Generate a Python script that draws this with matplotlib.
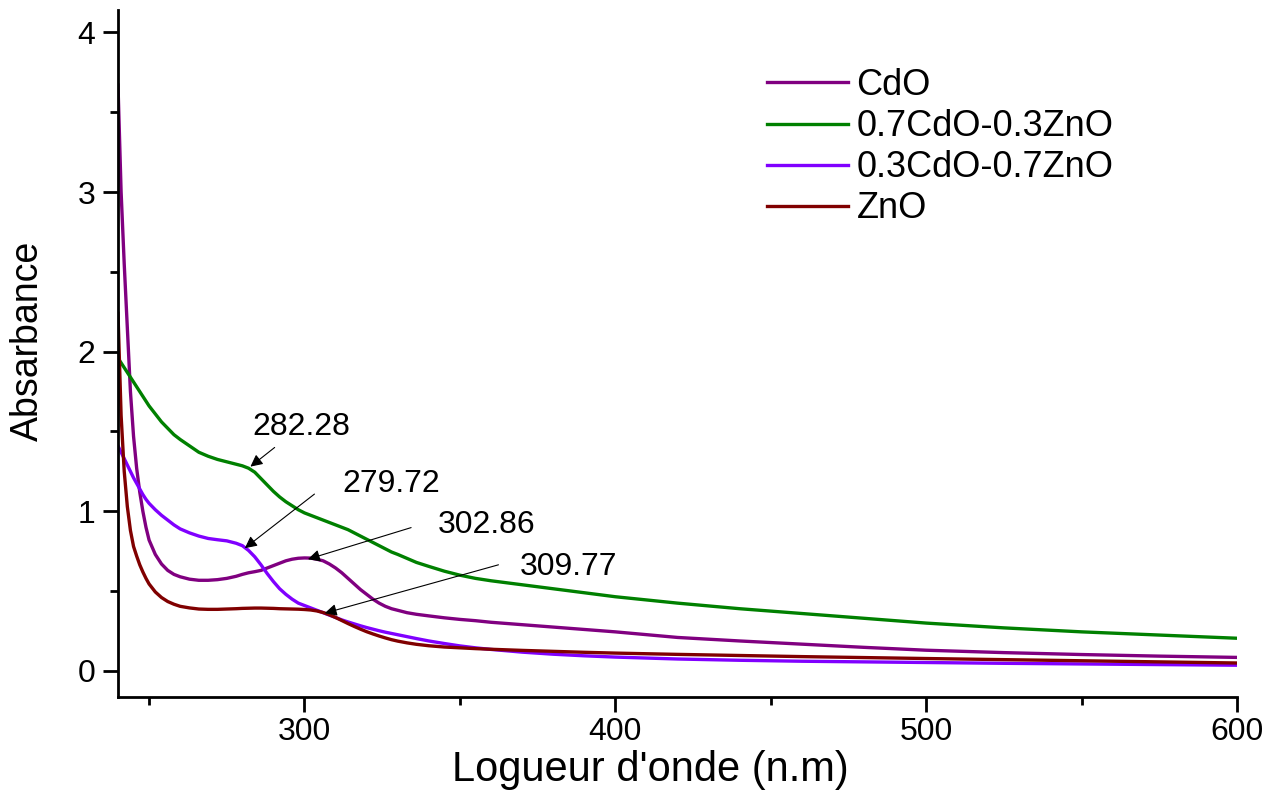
import numpy as np
import matplotlib.pyplot as plt
from matplotlib.ticker import MultipleLocator

plt.rcParams['font.family'] = ['Liberation Sans', 'DejaVu Sans']

wavelength = [240, 241, 242, 243, 244, 245, 246, 247, 248, 249, 250, 252, 254, 256, 258,
              260, 263, 266, 269, 272, 275, 278, 280, 282, 284, 286, 288, 290, 292, 294,
              296, 298, 300, 302, 304, 306, 308, 310, 312, 314, 316, 318, 320, 322, 324,
              326, 328, 330, 333, 336, 340, 345, 350, 355, 360, 370, 380, 390, 400, 420,
              440, 460, 480, 500, 525, 550, 575, 600]

cdo = [3.67, 3.0, 2.55, 2.15, 1.75, 1.47, 1.27, 1.12, 1.0, 0.9, 0.82, 0.73, 0.67, 0.63,
       0.605, 0.59, 0.575, 0.568, 0.568, 0.572, 0.58, 0.593, 0.605, 0.615, 0.622, 0.63,
       0.645, 0.66, 0.675, 0.69, 0.70, 0.706, 0.708, 0.707, 0.70, 0.69, 0.67, 0.645,
       0.615, 0.58, 0.545, 0.51, 0.48, 0.45, 0.425, 0.405, 0.39, 0.38, 0.365, 0.355,
       0.345, 0.333, 0.323, 0.315, 0.305, 0.29, 0.275, 0.26, 0.245, 0.21, 0.188, 0.168,
       0.148, 0.13, 0.115, 0.103, 0.093, 0.085]

cdo07_zno03 = [1.96, 1.93, 1.9, 1.87, 1.84, 1.81, 1.78, 1.75, 1.72, 1.69, 1.66, 1.61,
               1.56, 1.52, 1.48, 1.45, 1.41, 1.37, 1.345, 1.325, 1.31, 1.295, 1.285, 1.27,
               1.245, 1.205, 1.165, 1.125, 1.09, 1.06, 1.035, 1.01, 0.99, 0.975, 0.96,
               0.945, 0.93, 0.915, 0.9, 0.885, 0.865, 0.845, 0.825, 0.805, 0.785, 0.765,
               0.745, 0.73, 0.705, 0.68, 0.655, 0.625, 0.6, 0.58, 0.565, 0.54, 0.515, 0.49,
               0.465, 0.425, 0.39, 0.36, 0.33, 0.3, 0.27, 0.245, 0.225, 0.205]

cdo03_zno07 = [1.41, 1.37, 1.33, 1.29, 1.25, 1.21, 1.175, 1.14, 1.105, 1.075, 1.05, 1.01,
               0.975, 0.945, 0.915, 0.89, 0.865, 0.845, 0.83, 0.822, 0.815, 0.8, 0.785,
               0.755, 0.715, 0.665, 0.61, 0.56, 0.515, 0.48, 0.45, 0.425, 0.41, 0.395, 0.38,
               0.365, 0.35, 0.335, 0.32, 0.307, 0.295, 0.283, 0.272, 0.262, 0.252, 0.243,
               0.235, 0.227, 0.215, 0.203, 0.188, 0.172, 0.157, 0.145, 0.135, 0.118, 0.105,
               0.095, 0.087, 0.075, 0.067, 0.061, 0.057, 0.053, 0.048, 0.044, 0.04, 0.036]

zno = [2.24, 1.6, 1.25, 1.03, 0.88, 0.78, 0.72, 0.665, 0.62, 0.58, 0.545, 0.495, 0.46,
       0.435, 0.418, 0.405, 0.395, 0.388, 0.386, 0.386, 0.388, 0.39, 0.392, 0.393, 0.394,
       0.394, 0.393, 0.392, 0.39, 0.389, 0.388, 0.387, 0.385, 0.382, 0.376, 0.366, 0.352,
       0.335, 0.316, 0.297, 0.279, 0.262, 0.246, 0.232, 0.219, 0.207, 0.196, 0.187, 0.176,
       0.167, 0.158, 0.15, 0.145, 0.14, 0.136, 0.129, 0.123, 0.117, 0.112, 0.104, 0.097,
       0.09, 0.084, 0.078, 0.071, 0.064, 0.057, 0.05]

labels = ['CdO', '0.7CdO-0.3ZnO', '0.3CdO-0.7ZnO', 'ZnO']
colors = ['#800080', '#008000', '#8000FF', '#800000']

# (text, text x, text y, arrow tail, arrow head)
notes = [('282.28', 283.3, 1.48, (290.4, 1.40), (282.6, 1.28)),
         ('279.72', 312.2, 1.12, (303.2, 1.108), (280.8, 0.769)),
         ('302.86', 343.0, 0.865, (334.3, 0.898), (301.1, 0.70)),
         ('309.77', 369.4, 0.60, (362.4, 0.665), (306.5, 0.362))]

fig = plt.figure(figsize=(12.8, 8.01), dpi=100)
ax = fig.add_axes([118 / 1280, 104 / 801, 1119 / 1280, 687 / 801])

for y, lab, c in zip([cdo, cdo07_zno03, cdo03_zno07, zno], labels, colors):
    ax.plot(wavelength, y, color=c, lw=2.4, label=lab)

for txt, tx, ty, tail, head in notes:
    ax.text(tx, ty, txt, fontsize=23, ha='left', va='baseline')
    ax.annotate('', xy=head, xytext=tail,
                arrowprops=dict(arrowstyle='-|>', color='black', lw=0.8,
                                mutation_scale=18, shrinkA=0, shrinkB=0))

ax.set_xlim(240, 600)
ax.set_ylim(-0.163, 4.14)
ax.xaxis.set_major_locator(MultipleLocator(100))
ax.xaxis.set_minor_locator(MultipleLocator(50))
ax.yaxis.set_major_locator(MultipleLocator(1))
ax.yaxis.set_minor_locator(MultipleLocator(0.5))
ax.spines['top'].set_visible(False)
ax.spines['right'].set_visible(False)
for s in ['left', 'bottom']:
    ax.spines[s].set_linewidth(2)
ax.tick_params(which='major', length=10.5, width=2, labelsize=23)
ax.tick_params(which='minor', length=5.8, width=2)
ax.tick_params(axis='y', which='major', pad=6)
ax.tick_params(axis='x', which='major', pad=4)

ax.set_xlabel("Logueur d'onde (n.m)", fontsize=30)
ax.xaxis.set_label_coords((650 - 118) / 1119, -53 / 687)
ax.set_ylabel('Absarbance', fontsize=27)
ax.yaxis.set_label_coords(-72 / 1119, (697 - 341) / 687)

ax.legend(loc='upper left', bbox_to_anchor=(767 / 1280, 1 - 68 / 801),
          bbox_transform=fig.transFigure, frameon=False, fontsize=26,
          handlelength=2.25, handletextpad=0.23, labelspacing=0.17,
          borderpad=0, borderaxespad=0)

fig.savefig('out.png', dpi=100)
